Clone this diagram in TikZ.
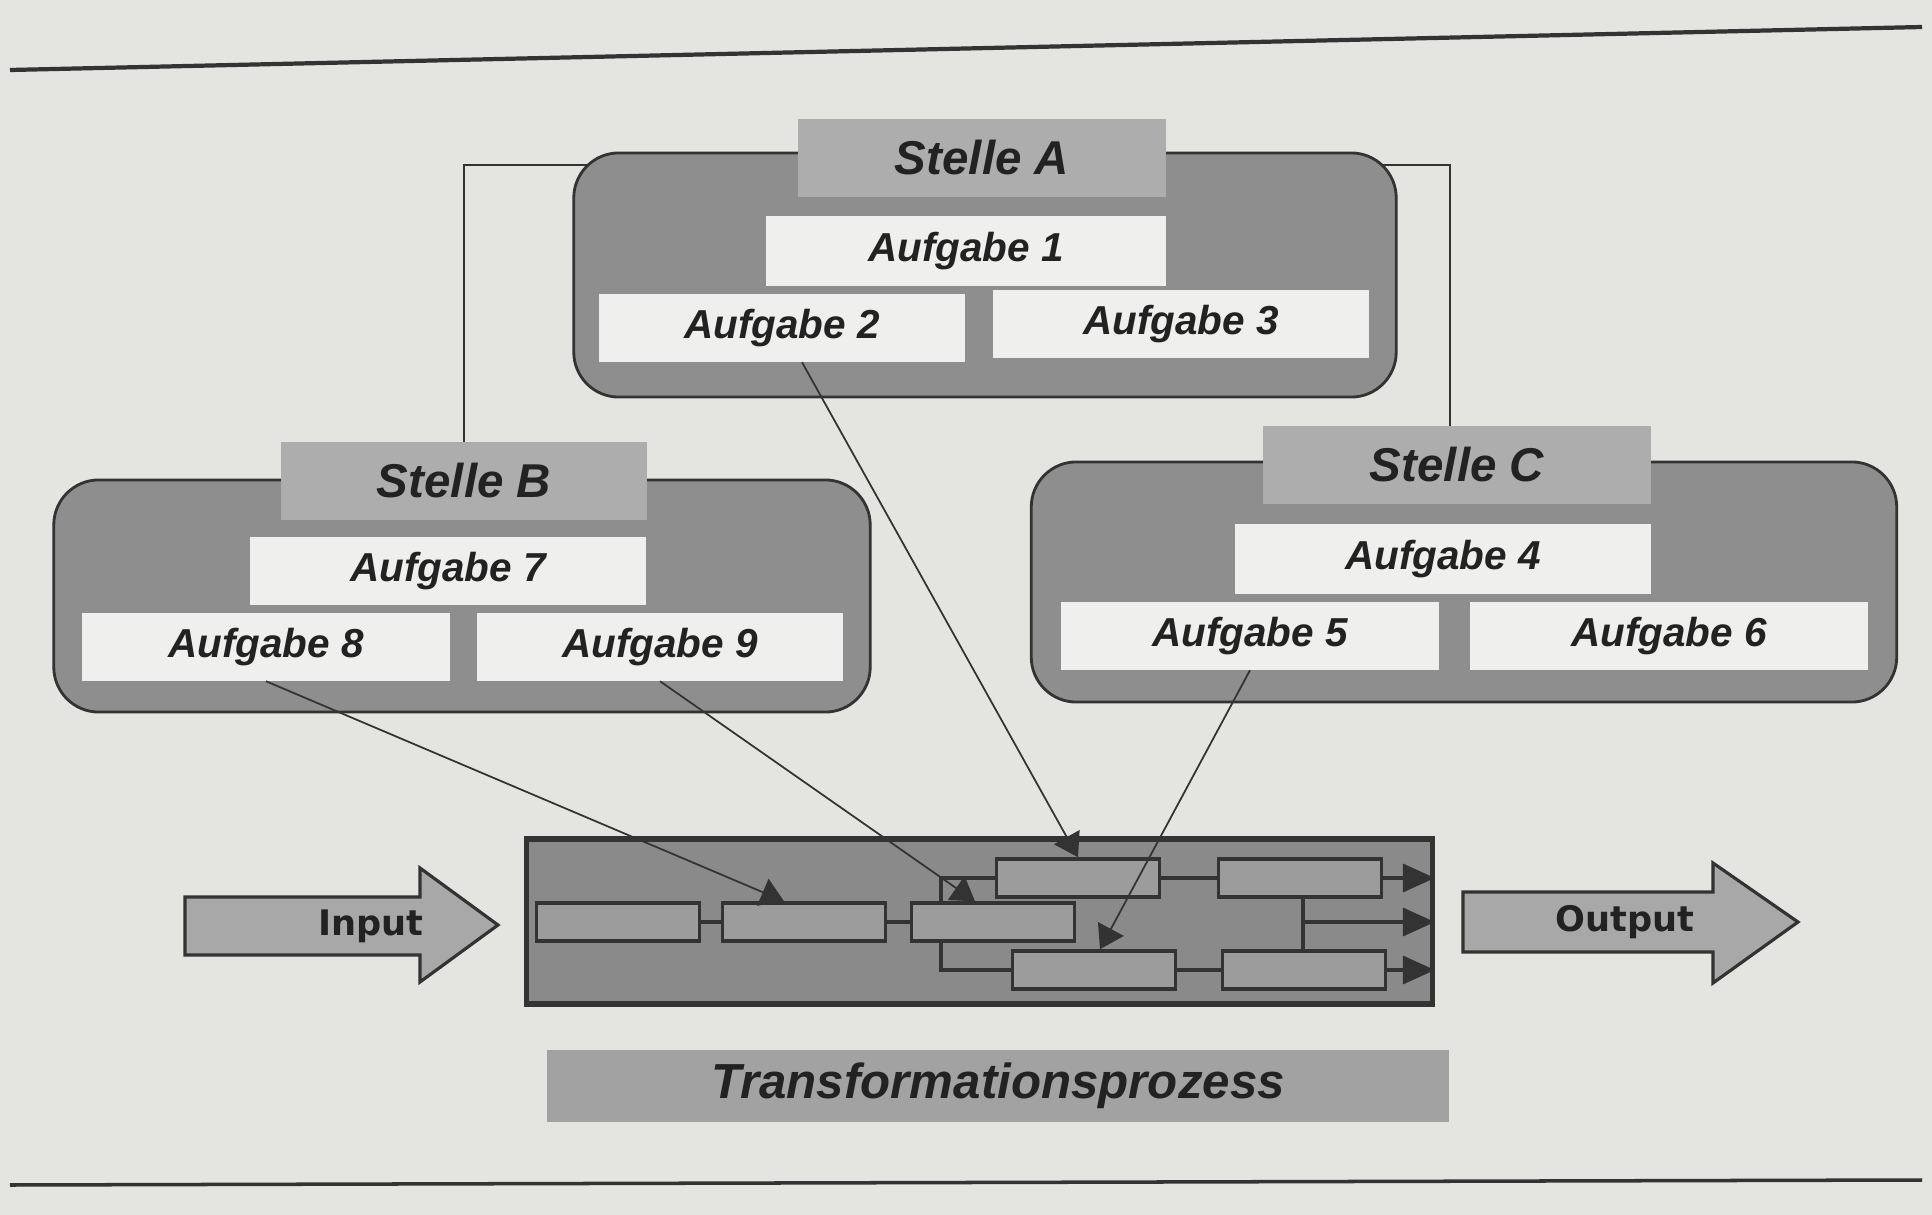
\documentclass[tikz,border=0pt]{standalone}
\usepackage{fontspec}
\setmainfont{Liberation Sans}
\newfontfamily\iofamily{DejaVu Sans}
\usetikzlibrary{arrows.meta, calc}
\definecolor{paper}{HTML}{E4E4E0}
\definecolor{linegray}{HTML}{333333}
\definecolor{inkgray}{HTML}{222222}
\definecolor{boxgray}{HTML}{8E8E8E}
\definecolor{tabgray}{HTML}{ADADAD}
\definecolor{taskwhite}{HTML}{EFEFED}
\definecolor{stepgray}{HTML}{9C9C9C}
\definecolor{procgray}{HTML}{8A8A8A}
\definecolor{bargray}{HTML}{A2A2A2}
\definecolor{arrowgray}{HTML}{A8A8A8}

\tikzset{
  stellebox/.style={rectangle, rounded corners=0.45cm, draw=linegray, line width=0.8pt, fill=boxgray},
  stelletab/.style={rectangle, fill=tabgray, inner sep=0pt, minimum height=0.78cm, text=inkgray, font=\fontsize{13.5pt}{16pt}\selectfont\bfseries\itshape},
  taskbox/.style={rectangle, fill=taskwhite, inner sep=0pt, minimum height=0.67cm, text=inkgray, font=\fontsize{11.5pt}{14pt}\selectfont\bfseries\itshape},
  procstep/.style={rectangle, draw=linegray, line width=1pt, fill=stepgray, minimum width=1.63cm, minimum height=0.38cm, inner sep=0pt},
  steplink/.style={draw=linegray, line width=1pt},
  outtip/.style={draw=linegray, line width=1pt, -{Triangle[length=3.2mm, width=2.8mm]}},
  taskarrow/.style={draw=linegray, line width=0.5pt, -{Triangle[length=2.3mm, width=2.9mm]}},
  bigarrow/.style={draw=linegray, line width=0.9pt, fill=arrowgray},
  iolabel/.style={inner sep=0pt, text=inkgray, font=\iofamily\fontsize{10pt}{12pt}\selectfont\bfseries}
}

\begin{document}
\begin{tikzpicture}[x=0.01cm, y=-0.01cm]
% Page and rules
\fill[paper] (0,0) rectangle (1932,1215);
\useasboundingbox (0,0) rectangle (1932,1215);
\draw[linegray, line width=1.2pt] (10,70) -- (1922,27);
\draw[linegray, line width=1pt] (10,1185) -- (1922,1180);

% Line linking the Stellen
\coordinate (treeB) at (464,442);
\coordinate (treeC) at (1450,426);
\coordinate (treetop) at (1450,165);
\draw[linegray, line width=0.6pt] (treeB) |- (treetop) -- (treeC);

% Stelle A
\node[stellebox, minimum width=8.22cm, minimum height=2.44cm] (stelleA) at (985,275) {};
\node[stelletab, minimum width=3.68cm] (tabA) at (982,158) {Stelle A};
\node[taskbox, minimum width=4.0cm, minimum height=0.70cm] (a1) at (966,251) {Aufgabe 1};
\node[taskbox, minimum width=3.65cm] (a2) at (782,328) {Aufgabe 2};
\node[taskbox, minimum width=3.76cm] (a3) at (1181,324) {Aufgabe 3};

% Stelle B
\node[stellebox, minimum width=8.16cm, minimum height=2.32cm] (stelleB) at (462,596) {};
\node[stelletab, minimum width=3.65cm] (tabB) at (464,481) {Stelle B};
\node[taskbox, minimum width=3.96cm] (a7) at (448,571) {Aufgabe 7};
\node[taskbox, minimum width=3.67cm] (a8) at (266,647) {Aufgabe 8};
\node[taskbox, minimum width=3.65cm] (a9) at (660,647) {Aufgabe 9};

% Stelle C
\node[stellebox, minimum width=8.65cm, minimum height=2.40cm] (stelleC) at (1464,582) {};
\node[stelletab, minimum width=3.87cm] (tabC) at (1457,465) {Stelle C};
\node[taskbox, minimum width=4.16cm, minimum height=0.70cm] (a4) at (1443,559) {Aufgabe 4};
\node[taskbox, minimum width=3.77cm] (a5) at (1250,636) {Aufgabe 5};
\node[taskbox, minimum width=3.98cm] (a6) at (1669,636) {Aufgabe 6};

% Process with its steps
\node[rectangle, draw=linegray, line width=1.5pt, fill=procgray, minimum width=9.05cm, minimum height=1.65cm] (proc) at (979.5,921.5) {};
\node[procstep] (p1) at (618,922) {};
\node[procstep] (p2) at (804,922) {};
\node[procstep] (p3) at (993,922) {};
\node[procstep] (p4) at (1078,878) {};
\node[procstep] (p5) at (1300,878) {};
\node[procstep] (p6) at (1094,970) {};
\node[procstep] (p7) at (1304,970) {};

\coordinate (splitT) at (941,878);
\coordinate (splitB) at (941,970);
\coordinate (merge) at (1303,922);
\draw[steplink] (p1) -- (p2);
\draw[steplink] (p2) -- (p3);
\draw[steplink] (splitT |- p3.north) |- (p4.west);
\draw[steplink] (splitB |- p3.south) |- (p6.west);
\draw[steplink] (p4) -- (p5);
\draw[steplink] (p6) -- (p7);
\draw[steplink] (merge |- p5.south) -- (merge |- p7.north);
\draw[outtip] (p5.east) -- (p5.east -| proc.east);
\draw[outtip] (merge) -- (merge -| proc.east);
\draw[outtip] (p7.east) -- (p7.east -| proc.east);

% Input and output
\draw[bigarrow] (185,897) -- (420,897) -- (420,868) -- (498,925) -- (420,982) -- (420,955) -- (185,955) -- cycle;
\node[iolabel] (input) at (371,926) {Input};
\draw[bigarrow] (1463,892) -- (1713,892) -- (1713,863) -- (1798,922) -- (1713,983) -- (1713,952) -- (1463,952) -- cycle;
\node[iolabel] (output) at (1625,922) {Output};

% Tasks into the process
\draw[taskarrow] ($(a2.south)+(20,0)$) -- (p4.north);
\draw[taskarrow] (a8.south) -- ($(p2.north)+(-20,0)$);
\draw[taskarrow] (a9.south) -- ($(p3.north)+(-18,0)$);
\draw[taskarrow] (a5.south) -- ($(p6.north)+(6,0)$);

% Caption bar
\node[rectangle, fill=bargray, inner sep=0pt, minimum width=9.01cm, minimum height=0.72cm, text=inkgray, font=\fontsize{14pt}{16pt}\selectfont\bfseries\itshape] (transform) at (998,1086) {Transformationsprozess};
\end{tikzpicture}
\end{document}
